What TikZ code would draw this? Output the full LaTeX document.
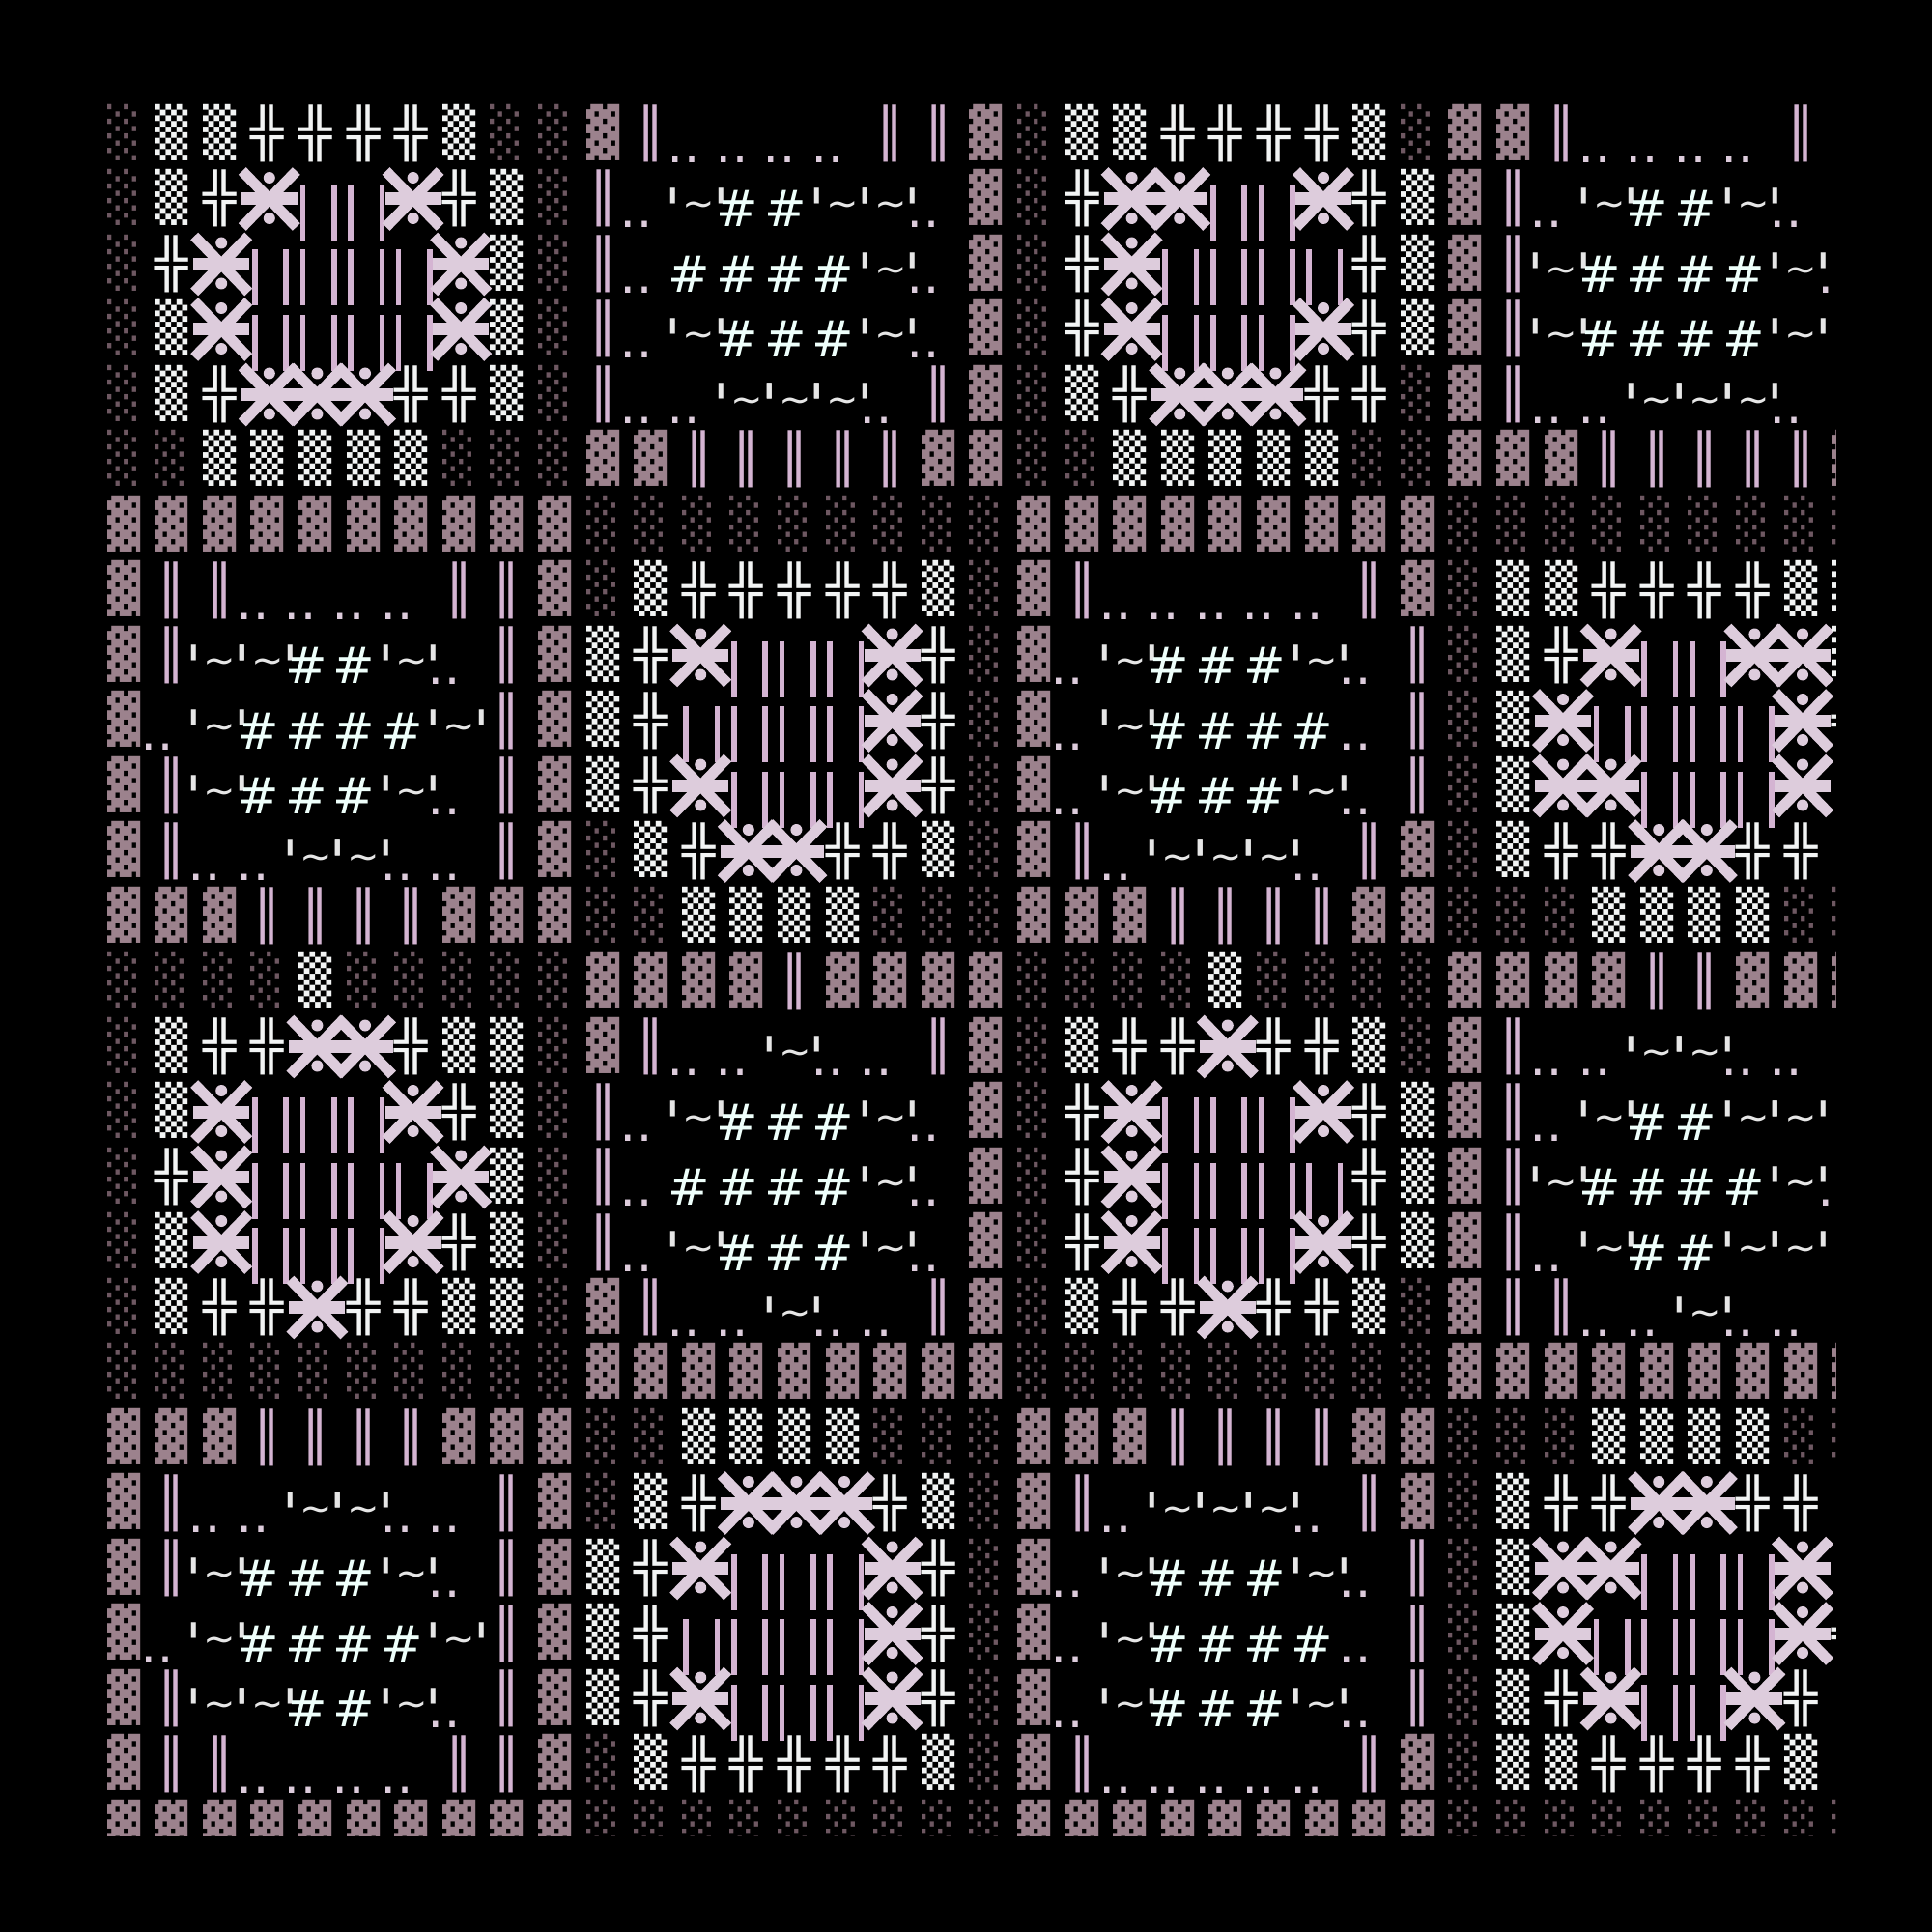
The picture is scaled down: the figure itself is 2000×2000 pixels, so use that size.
\documentclass[tikz,border=0pt]{standalone}
\usepackage{fontspec}
\usepackage{graphicx}
\newfontfamily\monoF{DejaVu Sans Mono}
\newfontfamily\sansF{DejaVu Sans}
\definecolor{cDark}{HTML}{6E5862}
\definecolor{cWhite}{HTML}{F2F4F4}
\definecolor{cPink}{HTML}{9C828D}
\definecolor{cBar}{HTML}{D4B4D2}
\definecolor{cX}{HTML}{DDCCDC}
\definecolor{cHash}{HTML}{EEFFFB}
\definecolor{cTil}{HTML}{E6E6E6}
\newcommand\ZZsetup[2]{\pgfmathsetmacro\X{111+49.6*#1}\pgfmathsetmacro\Y{108+67.5*#2}}
\newcommand\Zg[1]{\scalebox{1.14}[1]{#1}}
\newcommand\Zn[2]{}
\newcommand\Zd[2]{\ZZsetup{#1}{#2}\node[glyph,text=cDark] (g-#1-#2) at ({\X},{\Y+46.4}) {\Zg{░}};}
\newcommand\Zw[2]{\ZZsetup{#1}{#2}\node[glyph,text=cWhite] (g-#1-#2) at ({\X},{\Y+46.4}) {\Zg{▒}};}
\newcommand\Zp[2]{\ZZsetup{#1}{#2}\node[glyph,text=cPink] (g-#1-#2) at ({\X},{\Y+46.4}) {\Zg{▓}};}
\newcommand\Zb[2]{\ZZsetup{#1}{#2}\node[glyph,text=cWhite] (g-#1-#2) at ({\X},{\Y+47.5}) {\Zg{╬}};}
\newcommand\Zv[2]{\ZZsetup{#1}{#2}\node[glyph,text=cBar] (g-#1-#2) at ({\X},{\Y+47.5}) {\Zg{║}};}
\newcommand\Zh[2]{\ZZsetup{#1}{#2}\node[sglyph,text=cHash] (g-#1-#2) at ({\X+7.5},{\Y+59.5}) {\#};}
\newcommand\Zo[2]{\ZZsetup{#1}{#2}\node[sglyph,text=cX] (g-#1-#2) at ({\X+1.8},{\Y+60.5}) {‥};}
\newcommand\Zt[2]{\ZZsetup{#1}{#2}%
  \node[tglyph,text=cTil] (g-#1-#2) at ({\X+17.5},{\Y+49.5}) {\char`\~};%
  \node[aglyph,text=cTil] (ga-#1-#2) at ({\X-9},{\Y+63}) {'};%
  \node[aglyph,text=cTil] (gb-#1-#2) at ({\X+40.6},{\Y+63}) {'};}
\newcommand\Zu[2]{\ZZsetup{#1}{#2}%
  \draw[ubar] ({\X+4},{\Y+15.5}) -- ({\X+4},{\Y+73.5});%
  \draw[ubar] ({\X+36.3},{\Y+15.5}) -- ({\X+36.3},{\Y+73.5});}
\newcommand\Zx[2]{\ZZsetup{#1}{#2}%
  \pgfmathsetmacro\cx{\X+19}\pgfmathsetmacro\cy{\Y+30.5}%
  \draw[xline] ({\cx-28},{\cy-29}) -- ({\cx+28},{\cy+29});%
  \draw[xline] ({\cx-28},{\cy+29}) -- ({\cx+28},{\cy-29});%
  \draw[xline,line width=6.5] ({\cx-29},{\cy}) -- ({\cx+29},{\cy});%
  \fill[cX] ({\cx},{\Y+8.5}) circle (6);%
  \fill[cX] ({\cx},{\Y+50.5}) circle (6);}
\begin{document}
\begin{tikzpicture}[x=0.5pt,y=-0.5pt,
  glyph/.style={anchor=base west,inner sep=0,outer sep=0,font=\monoF\fontsize{24.9}{24.9}\selectfont},
  sglyph/.style={anchor=base,inner sep=0,outer sep=0,font=\sansF\fontsize{26}{26}\selectfont},
  tglyph/.style={anchor=base,inner sep=0,outer sep=0,font=\sansF\fontsize{20}{20}\selectfont},
  aglyph/.style={anchor=base,inner sep=0,outer sep=0,font=\sansF\fontsize{30}{30}\selectfont},
  ubar/.style={draw=cBar,line width=2.8},
  xline/.style={draw=cX,line width=5.5}]
\fill[black] (0,0) rectangle (2000,2000);
\useasboundingbox (0,0) rectangle (2000,2000);
\begin{scope}
\clip (0,0) rectangle (1900,1900);
\foreach \row [count=\r from 0] in {
{d,w,w,b,b,b,b,w,d,d,p,v,o,o,o,o,v,v,p,d,w,w,b,b,b,b,w,d,p,p,v,o,o,o,o,v,n},
{d,w,b,x,u,u,x,b,w,d,v,o,t,h,h,t,t,o,p,d,b,x,x,u,u,x,b,w,p,v,o,t,h,h,t,o,n},
{d,b,x,u,u,u,u,x,w,d,v,o,h,h,h,h,t,o,p,d,b,x,u,u,u,u,b,w,p,v,t,h,h,h,h,t,o},
{d,w,x,u,u,u,u,x,w,d,v,o,t,h,h,h,t,o,p,d,b,x,u,u,u,x,b,w,p,v,t,h,h,h,h,t,n},
{d,w,b,x,x,x,b,b,w,d,v,o,o,t,t,t,o,v,p,d,w,b,x,x,x,b,b,d,p,v,o,o,t,t,t,o,n},
{d,d,w,w,w,w,w,d,d,d,p,p,v,v,v,v,v,p,p,d,d,w,w,w,w,w,d,d,p,p,p,v,v,v,v,v,p},
{p,p,p,p,p,p,p,p,p,p,d,d,d,d,d,d,d,d,d,p,p,p,p,p,p,p,p,p,d,d,d,d,d,d,d,d,d},
{p,v,v,o,o,o,o,v,v,p,d,w,b,b,b,b,b,w,d,p,v,o,o,o,o,o,v,p,d,w,w,b,b,b,b,w,w},
{p,v,t,t,h,h,t,o,v,p,w,b,x,u,u,u,x,b,d,p,o,t,h,h,h,t,o,v,d,w,b,x,u,u,x,x,w},
{p,o,t,h,h,h,h,t,v,p,w,b,u,u,u,u,x,b,d,p,o,t,h,h,h,h,o,v,d,w,x,u,u,u,u,x,b},
{p,v,t,h,h,h,t,o,v,p,w,b,x,u,u,u,x,b,d,p,o,t,h,h,h,t,o,v,d,w,x,x,u,u,u,x,n},
{p,v,o,o,t,t,o,o,v,p,d,w,b,x,x,b,b,w,d,p,v,o,t,t,t,o,v,p,d,w,b,b,x,x,b,b,n},
{p,p,p,v,v,v,v,p,p,p,d,d,w,w,w,w,d,d,d,p,p,p,v,v,v,v,p,p,d,d,d,w,w,w,w,d,d},
{d,d,d,d,w,d,d,d,d,d,p,p,p,p,v,p,p,p,p,d,d,d,d,w,d,d,d,d,p,p,p,p,v,v,p,p,p},
{d,w,b,b,x,x,b,w,w,d,p,v,o,o,t,o,o,v,p,d,w,b,b,x,b,b,w,d,p,v,o,o,t,t,o,o,n},
{d,w,x,u,u,u,x,b,w,d,v,o,t,h,h,h,t,o,p,d,b,x,u,u,u,x,b,w,p,v,o,t,h,h,t,t,n},
{d,b,x,u,u,u,u,x,w,d,v,o,h,h,h,h,t,o,p,d,b,x,u,u,u,u,b,w,p,v,t,h,h,h,h,t,o},
{d,w,x,u,u,u,x,b,w,d,v,o,t,h,h,h,t,o,p,d,b,x,u,u,u,x,b,w,p,v,o,t,h,h,t,t,n},
{d,w,b,b,x,b,b,w,w,d,p,v,o,o,t,o,o,v,p,d,w,b,b,x,b,b,w,d,p,v,v,o,o,t,o,o,n},
{d,d,d,d,d,d,d,d,d,d,p,p,p,p,p,p,p,p,p,d,d,d,d,d,d,d,d,d,p,p,p,p,p,p,p,p,p},
{p,p,p,v,v,v,v,p,p,p,d,d,w,w,w,w,d,d,d,p,p,p,v,v,v,v,p,p,d,d,d,w,w,w,w,d,d},
{p,v,o,o,t,t,o,o,v,p,d,w,b,x,x,x,b,w,d,p,v,o,t,t,t,o,v,p,d,w,b,b,x,x,b,b,n},
{p,v,t,h,h,h,t,o,v,p,w,b,x,u,u,u,x,b,d,p,o,t,h,h,h,t,o,v,d,w,x,x,u,u,u,x,n},
{p,o,t,h,h,h,h,t,v,p,w,b,u,u,u,u,x,b,d,p,o,t,h,h,h,h,o,v,d,w,x,u,u,u,u,x,b},
{p,v,t,t,h,h,t,o,v,p,w,b,x,u,u,u,x,b,d,p,o,t,h,h,h,t,o,v,d,w,b,x,u,u,x,b,n},
{p,v,v,o,o,o,o,v,v,p,d,w,b,b,b,b,b,w,d,p,v,o,o,o,o,o,v,p,d,w,w,b,b,b,b,w,n},
{p,p,p,p,p,p,p,p,p,p,d,d,d,d,d,d,d,d,d,p,p,p,p,p,p,p,p,p,d,d,d,d,d,d,d,d,d}}
{\foreach \c [count=\i from 0] in \row {\csname Z\c\endcsname{\i}{\r}}}
\end{scope}
\end{tikzpicture}
\end{document}
